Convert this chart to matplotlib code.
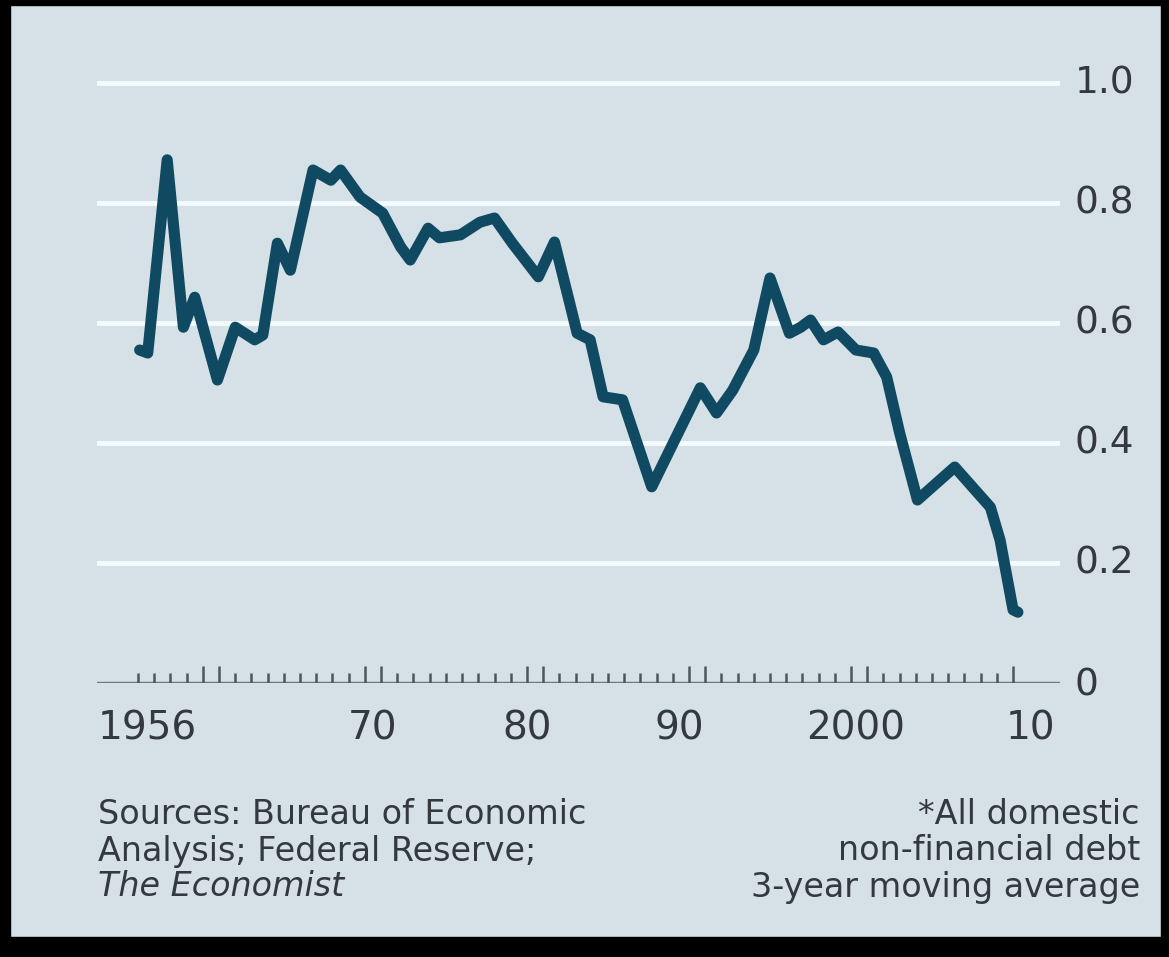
import numpy as np
import matplotlib.pyplot as plt
from matplotlib.patches import Rectangle

# debt ratio, 3-year moving average
years = [1956.1, 1956.6, 1957.8, 1958.8, 1959.5, 1960.9, 1962.0, 1963.2, 1963.7,
         1964.6, 1965.4, 1966.8, 1967.9, 1968.5, 1969.7, 1971.1, 1972.2, 1972.8,
         1973.9, 1974.6, 1975.9, 1977.1, 1978.0, 1979.1, 1980.7, 1981.7, 1983.1,
         1983.9, 1984.7, 1985.9, 1987.7, 1990.7, 1991.7, 1992.7, 1994.0, 1995.0,
         1996.2, 1996.9, 1997.5, 1998.3, 1999.2, 2000.3, 2001.4, 2002.2, 2003.0,
         2004.1, 2006.4, 2008.6, 2009.2, 2010.0, 2010.3]
ratio = [0.555, 0.55, 0.872, 0.593, 0.643, 0.505, 0.593, 0.572, 0.58,
         0.733, 0.688, 0.855, 0.838, 0.855, 0.81, 0.783, 0.727, 0.705,
         0.758, 0.742, 0.747, 0.768, 0.775, 0.733, 0.677, 0.735, 0.583,
         0.572, 0.477, 0.472, 0.327, 0.492, 0.45, 0.488, 0.555, 0.675,
         0.583, 0.593, 0.605, 0.572, 0.585, 0.555, 0.55, 0.51, 0.417,
         0.305, 0.36, 0.293, 0.238, 0.122, 0.118]

y_ticks = [0.2, 0.4, 0.6, 0.8, 1.0]
y_labels = ['0.2', '0.4', '0.6', '0.8', '1.0']
x_label_pos = [1956.6, 1970.5, 1980.0, 1989.4, 2000.3, 2011.1]
x_labels = ['1956', '70', '80', '90', '2000', '10']

bg = '#d6e1e7'
line_col = '#0f4a62'
text_col = '#33393d'

fig = plt.figure(figsize=(11.69, 9.57), dpi=100, facecolor=bg)
ax = fig.add_axes([0.083, 0.2863, 0.8238, 0.6583])
ax.set_facecolor(bg)
ax.set_xlim(1953.47, 2012.9)
ax.set_ylim(0, 1.05)
for s in ax.spines.values():
    s.set_visible(False)
ax.set_xticks([]), ax.set_yticks([])

for v in y_ticks:
    ax.axhline(v, color='#f4fbff', lw=3.5, zorder=1)
ax.axhline(0, color='#6d7b83', lw=2.5, zorder=2)

# yearly ticks, taller ones on the decade years
for yr in range(1956, 2011):
    h = 0.028 if yr % 10 in (0, 1) else 0.016
    ax.plot([yr, yr], [0, h], color='#4a575f', lw=1.8, zorder=2,
            solid_capstyle='butt')

ax.plot(years, ratio, color=line_col, lw=8, solid_joinstyle='round',
        solid_capstyle='round', zorder=3)

for v, lab in zip(y_ticks, y_labels):
    ax.text(1.015, v, lab, transform=ax.get_yaxis_transform(), ha='left',
            va='center', fontsize=27, color=text_col)
ax.text(1.015, -0.004, '0', transform=ax.get_yaxis_transform(), ha='left',
        va='center', fontsize=27, color=text_col)

for x, lab in zip(x_label_pos, x_labels):
    ax.text(x, -0.076, lab, ha='center', va='center', fontsize=28,
            color=text_col)

fs = 24
fig.text(98 / 1169, 1 - 815 / 957, 'Sources: Bureau of Economic', ha='left',
         va='center', fontsize=fs, color=text_col)
fig.text(98 / 1169, 1 - 851 / 957, 'Analysis; Federal Reserve;', ha='left',
         va='center', fontsize=fs, color=text_col)
fig.text(98 / 1169, 1 - 887 / 957, 'The Economist', ha='left', va='center',
         fontsize=fs, color=text_col, style='italic')
fig.text(1140 / 1169, 1 - 815 / 957, '*All domestic', ha='right',
         va='center', fontsize=fs, color=text_col)
fig.text(1140 / 1169, 1 - 851 / 957, 'non-financial debt', ha='right',
         va='center', fontsize=fs, color=text_col)
fig.text(1140 / 1169, 1 - 887 / 957, '3-year moving average', ha='right',
         va='center', fontsize=fs, color=text_col)

# dark frame round the scanned chart
for r in [(0, 0, 10 / 1169, 1), (0, 1 - 5 / 957, 1, 5 / 957),
          (1 - 8 / 1169, 0, 8 / 1169, 1), (0, 0, 1, 20 / 957)]:
    fig.patches.append(Rectangle(r[:2], r[2], r[3], transform=fig.transFigure,
                                 color='black', zorder=10))

fig.savefig('out.png', dpi=100, facecolor=bg)
